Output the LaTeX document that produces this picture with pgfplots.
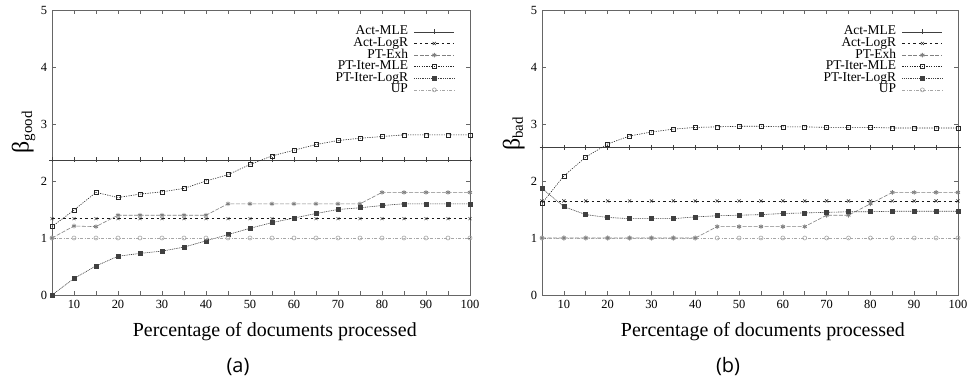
\documentclass[border=0pt]{standalone}
\usepackage{fontspec}
\setmainfont{Liberation Serif}
\newfontfamily\capfont{Open Sans}
\usepackage{pgfplots}
\usepackage{pgfplotstable}
\pgfplotsset{compat=1.18}

\pgfplotstableread{
x actmle actlogr ptexh ptitermle ptiterlogr up
5 2.37 1.34 1.00 1.20 0.00 1.00
10 2.37 1.34 1.21 1.49 0.29 1.00
15 2.37 1.34 1.20 1.80 0.51 1.00
20 2.37 1.34 1.40 1.71 0.68 1.00
25 2.37 1.34 1.40 1.77 0.73 1.00
30 2.37 1.34 1.40 1.81 0.77 1.00
35 2.37 1.34 1.40 1.87 0.84 1.00
40 2.37 1.34 1.40 2.00 0.95 1.00
45 2.37 1.34 1.60 2.11 1.06 1.00
50 2.37 1.34 1.60 2.29 1.17 1.00
55 2.37 1.34 1.60 2.44 1.27 1.00
60 2.37 1.34 1.60 2.54 1.35 1.00
65 2.37 1.34 1.60 2.64 1.43 1.00
70 2.37 1.34 1.60 2.71 1.50 1.00
75 2.37 1.34 1.60 2.75 1.53 1.00
80 2.37 1.34 1.80 2.78 1.57 1.00
85 2.37 1.34 1.80 2.81 1.60 1.00
90 2.37 1.34 1.80 2.81 1.60 1.00
95 2.37 1.34 1.80 2.81 1.60 1.00
100 2.37 1.34 1.80 2.81 1.60 1.00
}\goodtable

\pgfplotstableread{
x actmle actlogr ptexh ptitermle ptiterlogr up
5 2.59 1.65 1.00 1.61 1.87 1.00
10 2.59 1.65 1.00 2.09 1.55 1.00
15 2.59 1.65 1.00 2.42 1.41 1.00
20 2.59 1.65 1.00 2.65 1.36 1.00
25 2.59 1.65 1.00 2.79 1.34 1.00
30 2.59 1.65 1.00 2.86 1.34 1.00
35 2.59 1.65 1.00 2.91 1.34 1.00
40 2.59 1.65 1.00 2.94 1.37 1.00
45 2.59 1.65 1.20 2.95 1.39 1.00
50 2.59 1.65 1.20 2.96 1.40 1.00
55 2.59 1.65 1.20 2.96 1.41 1.00
60 2.59 1.65 1.20 2.95 1.43 1.00
65 2.59 1.65 1.20 2.95 1.44 1.00
70 2.59 1.65 1.40 2.94 1.45 1.00
75 2.59 1.65 1.40 2.94 1.46 1.00
80 2.59 1.65 1.60 2.94 1.46 1.00
85 2.59 1.65 1.80 2.93 1.47 1.00
90 2.59 1.65 1.80 2.93 1.47 1.00
95 2.59 1.65 1.80 2.93 1.47 1.00
100 2.59 1.65 1.80 2.93 1.47 1.00
}\badtable

\pgfplotsset{
  actmle/.style={black!75, line width=0.7bp, solid, mark=+, mark size=2.5bp, mark options={solid}},
  actlogr/.style={black!90, line width=0.5bp, dash pattern=on 2.5bp off 3bp, mark=x, mark size=2.2bp, mark options={solid}},
  ptexh/.style={black!50, line width=0.6bp, dash pattern=on 4bp off 1.5bp, mark=asterisk, mark size=2.3bp, mark options={solid, line width=0.9bp}},
  ptitermle/.style={black!85, line width=0.6bp, dash pattern=on 1.2bp off 1.2bp, mark=square, mark size=2bp, mark options={solid, fill=white}},
  ptiterlogr/.style={black!75, line width=0.6bp, dash pattern=on 1bp off 0.8bp, mark=square*, mark size=2bp, mark options={solid}},
  upstyle/.style={black!35, line width=0.6bp, dash pattern=on 3bp off 1.5bp on 1bp off 1.5bp, mark=o, mark size=2bp, mark options={solid, fill=white}},
  betastyle/.style={
    scale only axis, height=285bp, xmin=5, xmax=100, ymin=0, ymax=5,
    xtick={10,20,...,100}, minor xtick={5,15,...,95}, ytick={0,1,2,3,4,5},
    tick align=inside, major tick length=4bp, minor tick length=4bp,
    tick style={black!60, line width=0.6bp},
    axis line style={black!60, line width=0.8bp},
    /pgf/number format/assume math mode=true,
    ticklabel style={font=\fontsize{12.5}{13}\selectfont},
    xticklabel style={yshift=-1.5bp},
    yticklabel style={xshift=-1.5bp},
    clip=false,
    xlabel={Percentage of documents processed},
    xlabel style={font=\fontsize{20}{22}\selectfont, anchor=center},
    ylabel style={rotate=-90, anchor=center},
    legend style={draw=none, fill=none, anchor=north east,
      font=\fontsize{13.5}{14}\selectfont,
      nodes={inner sep=0bp, text height=9bp, text depth=3bp},
      row sep=-0.4bp, column sep=6bp},
    legend cell align=right,
    legend plot pos=right,
    legend image code/.code={\draw[mark repeat=2,mark phase=2] plot coordinates {(0bp,0bp) (20bp,0bp) (40bp,0bp)};},
  }
}

\begin{document}
\begin{tikzpicture}
\path[use as bounding box] (0,0) rectangle (973bp,386bp);
\begin{axis}[betastyle, at={(52bp,91bp)}, anchor=south west, width=418bp,
  xlabel style={at={(axis description cs:0.533,-0.13)}},
  ylabel={\rotatebox{90}{\fontsize{24}{24}\selectfont β\raisebox{-0.3ex}{\fontsize{15}{15}\selectfont good}}},
  ylabel style={at={(axis description cs:-0.068,0.57)}},
  legend style={at={(axis description cs:0.971,0.952)}}]
\addplot[actmle] table[x=x,y=actmle] {\goodtable};
\addlegendentry{Act-MLE}
\addplot[actlogr] table[x=x,y=actlogr] {\goodtable};
\addlegendentry{Act-LogR}
\addplot[ptexh] table[x=x,y=ptexh] {\goodtable};
\addlegendentry{PT-Exh}
\addplot[ptitermle] table[x=x,y=ptitermle] {\goodtable};
\addlegendentry{PT-Iter-MLE}
\addplot[ptiterlogr] table[x=x,y=ptiterlogr] {\goodtable};
\addlegendentry{PT-Iter-LogR}
\addplot[upstyle] table[x=x,y=up] {\goodtable};
\addlegendentry{UP}
\end{axis}
\begin{axis}[betastyle, at={(542bp,91bp)}, anchor=south west, width=416bp,
  xlabel style={at={(axis description cs:0.531,-0.13)}},
  ylabel={\rotatebox{90}{\fontsize{24}{24}\selectfont β\raisebox{-0.3ex}{\fontsize{15}{15}\selectfont bad}}},
  ylabel style={at={(axis description cs:-0.068,0.565)}},
  legend style={at={(axis description cs:0.971,0.952)}}]
\addplot[actmle] table[x=x,y=actmle] {\badtable};
\addlegendentry{Act-MLE}
\addplot[actlogr] table[x=x,y=actlogr] {\badtable};
\addlegendentry{Act-LogR}
\addplot[ptexh] table[x=x,y=ptexh] {\badtable};
\addlegendentry{PT-Exh}
\addplot[ptitermle] table[x=x,y=ptitermle] {\badtable};
\addlegendentry{PT-Iter-MLE}
\addplot[ptiterlogr] table[x=x,y=ptiterlogr] {\badtable};
\addlegendentry{PT-Iter-LogR}
\addplot[upstyle] table[x=x,y=up] {\badtable};
\addlegendentry{UP}
\end{axis}
\node[font=\capfont\fontsize{20}{22}\selectfont] at (238bp,19bp) {(a)};
\node[font=\capfont\fontsize{20}{22}\selectfont] at (728bp,19bp) {(b)};
\end{tikzpicture}
\end{document}
